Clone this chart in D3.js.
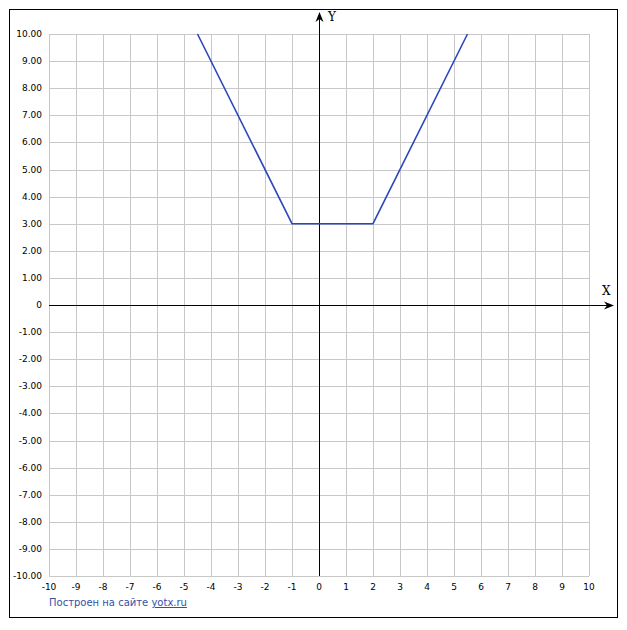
<!DOCTYPE html>
<html lang="ru">
<head>
<meta charset="utf-8">
<script src="https://d3js.org/d3.v7.min.js"></script>
<style>
  body { margin: 0; background: #fff; }
  text { font-family: Tahoma, "DejaVu Sans", sans-serif; }
</style>
</head>
<body>
<div id="my_dataviz"></div>
<script>
    // graph y = |x+1| + |x-2|, visible part
    var xs = [-4.5, -1, 2, 5.5];
    var ys = [10, 3, 3, 10];
    var xTicks = d3.range(-10, 11, 1);
    var yTicks = d3.range(-10, 11, 1);

    var W = 627, H = 630;

    var svg = d3.select("#my_dataviz")
        .append("svg")
        .attr("width", W)
        .attr("height", H);

    // outer frame
    svg.append("rect")
        .attr("x", 9.5).attr("y", 9.5)
        .attr("width", 608).attr("height", 608)
        .attr("fill", "none")
        .attr("stroke", "#000")
        .attr("stroke-width", 1);

    var x = d3.scaleLinear().domain([-10, 10]).range([49, 589]);
    var y = d3.scaleLinear().domain([-10, 10]).range([576, 34]);

    // grid
    svg.append("g").selectAll("line.v")
        .data(xTicks).enter().append("line")
        .attr("x1", d => Math.round(x(d)) + 0.5).attr("x2", d => Math.round(x(d)) + 0.5)
        .attr("y1", y(10)).attr("y2", y(-10))
        .attr("stroke", "#c8c8c8");
    svg.append("g").selectAll("line.h")
        .data(yTicks).enter().append("line")
        .attr("y1", d => Math.round(y(d)) + 0.5).attr("y2", d => Math.round(y(d)) + 0.5)
        .attr("x1", x(-10)).attr("x2", x(10))
        .attr("stroke", "#c8c8c8");

    // tick labels
    svg.append("g").selectAll("text")
        .data(yTicks).enter().append("text")
        .attr("x", 42)
        .attr("y", d => y(d) + 3)
        .attr("text-anchor", "end")
        .style("font-size", "9px")
        .text(d => d === 0 ? "0" : d.toFixed(2));

    svg.append("g").selectAll("text")
        .data(xTicks).enter().append("text")
        .attr("x", d => x(d))
        .attr("y", 590)
        .attr("text-anchor", "middle")
        .style("font-size", "9px")
        .text(d => d);

    // axes with arrows
    svg.append("defs").append("marker")
        .attr("id", "arr")
        .attr("viewBox", "0 0 10 10")
        .attr("refX", 9).attr("refY", 5)
        .attr("markerWidth", 10).attr("markerHeight", 10)
        .attr("markerUnits", "userSpaceOnUse")
        .attr("orient", "auto")
        .append("path")
        .attr("d", "M0,1 L10,5 L0,9 L3,5 Z")
        .attr("fill", "#000");

    var x0 = Math.round(x(0)) + 0.5, y0 = Math.round(y(0)) + 0.5;
    svg.append("line")
        .attr("x1", x(-10)).attr("x2", 613)
        .attr("y1", y0).attr("y2", y0)
        .attr("stroke", "#000").attr("stroke-width", 1)
        .attr("marker-end", "url(#arr)");
    svg.append("line")
        .attr("x1", x0).attr("x2", x0)
        .attr("y1", y(-10)).attr("y2", 13)
        .attr("stroke", "#000").attr("stroke-width", 1)
        .attr("marker-end", "url(#arr)");

    svg.append("text").attr("x", 602).attr("y", 295)
        .style("font-family", "'DejaVu Serif', serif").style("font-size", "12px")
        .text("X");
    svg.append("text").attr("x", 328).attr("y", 21)
        .style("font-family", "'DejaVu Serif', serif").style("font-size", "12px")
        .text("Y");

    // the graph
    var pts = xs.map((d, i) => [d, ys[i]]);
    svg.append("path")
        .datum(pts)
        .attr("d", d3.line().x(d => x(d[0])).y(d => y(d[1])))
        .attr("fill", "none")
        .attr("stroke", "#2a47c0")
        .attr("stroke-width", 1.6);

    // footer
    var foot = svg.append("text")
        .attr("x", 49).attr("y", 606)
        .style("font-size", "10px")
        .attr("fill", "#3350a8");
    foot.append("tspan").text("Построен на сайте ");
    foot.append("tspan").text("yotx.ru").style("text-decoration", "underline");
</script>
</body>
</html>
